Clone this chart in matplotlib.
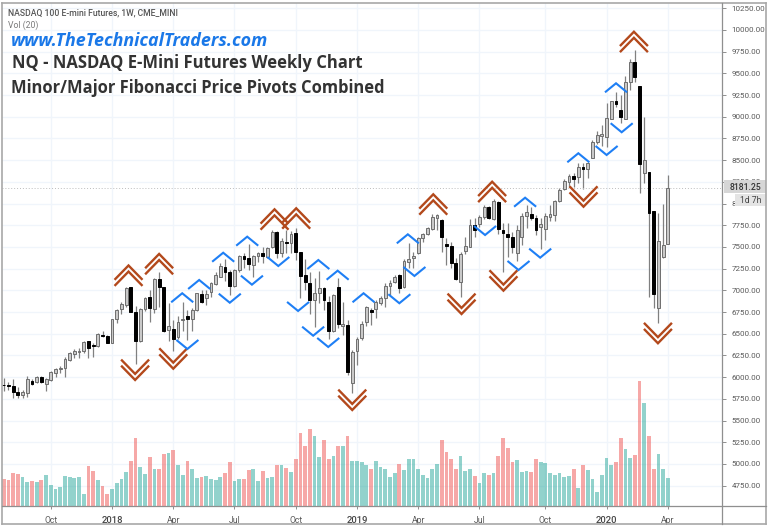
import matplotlib
matplotlib.use('Agg')
import matplotlib.pyplot as plt
from matplotlib.lines import Line2D
from matplotlib.patches import Rectangle

# weekly candles, oldest first
opens = [5914, 5914, 5899, 5834, 5795, 5814, 5957, 5941, 6006, 5922,
         5968, 6045, 6091, 6106, 6198, 6268, 6291, 6306, 6413, 6367,
         6360, 6490, 6479, 6398, 6667, 6782, 6828, 7036, 6755, 6421,
         6782, 6920, 6790, 7128, 7043, 6544, 6552, 6460, 6659, 6705,
         6667, 6775, 6959, 6909, 6986, 7074, 7159, 7274, 7216, 7055,
         7235, 7396, 7369, 7293, 7400, 7427, 7389, 7504, 7677, 7427,
         7561, 7542, 7665, 7439, 7173, 7081, 6889, 6974, 7024, 6870,
         6532, 7043, 6590, 6601, 5929, 6306, 6448, 6640, 6775, 6782,
         6852, 6909, 7051, 7101, 7178, 7036, 7332, 7370, 7428, 7600,
         7650, 7712, 7831, 7812, 7531, 7516, 7312, 7101, 7458, 7504,
         7754, 7765, 7842, 7957, 7819, 8022, 7696, 7650, 7612, 7435,
         7619, 7857, 7880, 7838, 7734, 7708, 7850, 7869, 8034, 8164,
         8253, 8318, 8303, 8426, 8395, 8529, 8714, 8783, 8771, 8979,
         9178, 9079, 8979, 9405, 9635, 9359, 8349, 8368, 7919, 6794,
         7389, 7531]
highs = [5987, 5949, 5976, 5891, 5853, 6014, 5976, 6014, 6014, 5987,
         6076, 6102, 6129, 6237, 6294, 6325, 6333, 6417, 6421, 6390,
         6506, 6536, 6486, 6671, 6782, 6867, 7043, 7043, 6821, 6794,
         6920, 7005, 7139, 7212, 7043, 6851, 6659, 6705, 6871, 6775,
         6794, 6974, 7005, 7005, 7101, 7216, 7320, 7358, 7235, 7243,
         7408, 7435, 7535, 7408, 7446, 7496, 7504, 7696, 7688, 7600,
         7696, 7688, 7715, 7439, 7358, 7208, 7139, 7227, 7043, 6935,
         6958, 7139, 6870, 6659, 6313, 6467, 6652, 6821, 6794, 6890,
         6936, 7082, 7120, 7178, 7190, 7358, 7550, 7447, 7620, 7666,
         7735, 7881, 7881, 7819, 7600, 7562, 7370, 7447, 7620, 7819,
         7831, 7869, 7984, 7972, 8049, 8034, 7773, 7781, 7677, 7754,
         7888, 7984, 7965, 7869, 7830, 7896, 7984, 8042, 8176, 8280,
         8337, 8356, 8464, 8464, 8483, 8733, 8841, 8906, 9155, 9186,
         9290, 9251, 9470, 9662, 9770, 9359, 9002, 8368, 7919, 7896,
         7996, 8330]
lows = [5841, 5853, 5757, 5757, 5757, 5776, 5910, 5930, 5930, 5837,
        5957, 6006, 6045, 6006, 6187, 6218, 6225, 6283, 6218, 6229,
        6352, 6460, 6390, 6390, 6621, 6729, 6813, 6748, 6153, 6410,
        6767, 6640, 6736, 6813, 6525, 6421, 6298, 6437, 6537, 6429,
        6537, 6763, 6859, 6832, 6920, 7063, 7151, 7113, 6947, 7043,
        7216, 7254, 7235, 7158, 7331, 7319, 7377, 7492, 7369, 7389,
        7427, 7427, 7350, 6909, 7005, 6724, 6582, 6851, 6774, 6444,
        6517, 6563, 6486, 6025, 5814, 6141, 6429, 6590, 6602, 6679,
        6832, 6813, 6948, 7082, 6967, 7024, 7255, 7255, 7416, 7562,
        7639, 7696, 7696, 7439, 7293, 7262, 7120, 6928, 7420, 7497,
        7619, 7734, 7819, 7819, 7811, 7650, 7216, 7389, 7435, 7343,
        7523, 7715, 7811, 7638, 7473, 7581, 7804, 7804, 8022, 8157,
        8188, 8195, 8234, 8164, 8291, 8522, 8687, 8664, 8656, 8971,
        9117, 8925, 8971, 9309, 9405, 8119, 8234, 6921, 6801, 6629,
        7370, 7531]
closes = [5907, 5899, 5826, 5795, 5826, 5983, 5922, 5999, 5941, 5976,
          6060, 6091, 6106, 6214, 6283, 6298, 6306, 6410, 6337, 6356,
          6498, 6475, 6398, 6667, 6774, 6844, 7028, 6755, 6417, 6786,
          6909, 6798, 7128, 7036, 6537, 6590, 6441, 6640, 6675, 6667,
          6775, 6967, 6871, 6959, 7082, 7178, 7281, 7216, 7055, 7235,
          7396, 7358, 7300, 7396, 7427, 7396, 7492, 7669, 7435, 7573,
          7546, 7650, 7439, 7166, 7101, 6889, 6974, 7031, 6889, 6532,
          6947, 6613, 6613, 6064, 6287, 6436, 6614, 6806, 6755, 6871,
          6917, 7055, 7090, 7159, 7032, 7343, 7366, 7401, 7600, 7650,
          7716, 7842, 7869, 7612, 7516, 7312, 7128, 7420, 7512, 7750,
          7696, 7850, 7965, 7830, 8034, 7708, 7658, 7612, 7496, 7696,
          7857, 7907, 7838, 7696, 7761, 7857, 7880, 8030, 8157, 8264,
          8318, 8280, 8418, 8403, 8472, 8710, 8791, 8798, 8983, 9178,
          9148, 8994, 9405, 9635, 9463, 8457, 8503, 7896, 6959, 7573,
          7523, 8176]
volumes = [273, 263, 327, 320, 293, 240, 247, 243, 257, 307,
           213, 167, 187, 300, 287, 280, 287, 117, 400, 347,
           260, 200, 117, 167, 233, 273, 340, 453, 683, 393,
           320, 487, 373, 367, 517, 533, 563, 413, 313, 447,
           373, 280, 287, 303, 273, 260, 287, 327, 440, 247,
           273, 267, 360, 367, 247, 347, 280, 287, 407, 413,
           380, 340, 473, 733, 597, 770, 700, 490, 657, 473,
           497, 597, 597, 703, 453, 447, 440, 413, 373, 453,
           393, 367, 287, 327, 420, 360, 467, 473, 373, 313,
           280, 367, 420, 663, 543, 467, 367, 503, 353, 373,
           300, 233, 333, 307, 333, 497, 677, 583, 440, 457,
           340, 353, 340, 473, 437, 427, 327, 313, 333, 293,
           300, 367, 180, 413, 357, 273, 143, 307, 480, 413,
           440, 683, 567, 480, 510, 1250, 1033, 703, 367, 517,
           367, 280]

# pivot markers: (week index, price at the tip of the chevron)
major_tops = [(26.5, 7287), (33.0, 7420), (57.5, 7934), (62.1, 7946),
              (91.2, 8107), (103.7, 8252), (133.8, 9980)]
major_bottoms = [(27.9, 5968), (36.0, 6098), (74.0, 5622), (97.2, 6728),
                 (106.1, 6997), (123.1, 7964), (138.9, 6391)]
minor_tops = [(37.9, 6967), (41.5, 7120), (46.6, 7434), (51.7, 7619),
              (66.8, 7350), (70.9, 7227), (76.4, 6967), (85.8, 7646),
              (110.7, 8068), (122.0, 8580), (130.0, 9386)]
minor_bottoms = [(39.0, 6325), (48.0, 6858), (52.7, 7066), (58.3, 7281),
                 (62.5, 6763), (65.7, 6478), (68.9, 6348), (84.0, 6852),
                 (87.2, 7166), (102.2, 7638), (109.3, 7235), (113.9, 7377),
                 (128.0, 8560), (131.2, 8822)]

date_ticks = [10, 23, 36, 49, 62, 75, 88, 101, 115, 128, 141]
date_labels = ['Oct', '2018', 'Apr', 'Jul', 'Oct', '2019', 'Apr', 'Jul', 'Oct', '2020', 'Apr']
price_ticks = [4750 + 250 * i for i in range(23)]
last_price = 8181.25

W, H = 768, 527
GRID = '#f0f5fb'
BROWN = '#b3491c'
BLUE = '#1e7ff5'
FRAME = '#8f8f8f'
TICKS = '#5a5a5a'


def px(x, y):
    return x / W, 1 - y / H


plt.rcParams['font.family'] = ['Roboto', 'DejaVu Sans']
fig = plt.figure(figsize=(W / 100, H / 100), dpi=100, facecolor='white')
ax = fig.add_axes([2 / W, (H - 506) / H, 720 / W, 503 / H])
ax.set_xlim(-0.36, 152.5)
ax.set_ylim(4516, 10311)
for s in ax.spines.values():
    s.set_visible(False)

# volume panel shares the same plot area
ax2 = ax.twinx()
ax2.set_ylim(0, 5030)
ax2.set_yticks([])
for s in ax2.spines.values():
    s.set_visible(False)

ax.set_axisbelow(True)
ax.grid(True, color=GRID, lw=1.0)
ax.yaxis.tick_right()
ax.set_yticks(price_ticks)
ax.set_yticklabels([f'{p:.2f}' for p in price_ticks])
ax.tick_params(axis='y', length=3, width=0.7, color=FRAME, labelsize=5.8, labelcolor=TICKS, pad=4)
ax.set_xticks(date_ticks)
ax.set_xticklabels(date_labels)
ax.tick_params(axis='x', length=2, width=0.7, color=FRAME, labelsize=6.2, labelcolor=TICKS, pad=5)
for lab in ax.get_xticklabels():
    if lab.get_text().startswith('20'):
        lab.set_fontsize(6.8)
        lab.set_color('#444444')
        lab.set_fontweight('medium')

# candles
weeks = list(range(len(opens)))
ax.vlines(weeks, lows, highs, color='#808080', lw=0.9, zorder=2)
tops = [max(o, c) for o, c in zip(opens, closes)]
bots = [min(o, c) for o, c in zip(opens, closes)]
body_fc = ['#c9c9c9' if c >= o else '#000000' for o, c in zip(opens, closes)]
body_ec = ['#6e6e6e' if c >= o else '#000000' for o, c in zip(opens, closes)]
ax.bar(weeks, [t - b for t, b in zip(tops, bots)], bottom=bots, width=0.6,
       color=body_fc, edgecolor=body_ec, linewidth=0.7, zorder=3)

ax.axhline(last_price, color='#bdbdbd', lw=0.7, ls=(0, (1, 2)), zorder=2)


def chevron(week, price, half_w, height, direction, color, lw):
    # direction 1 points up, -1 points down; price is the tip
    ax.plot([week - half_w, week, week + half_w],
            [price - direction * height, price, price - direction * height],
            color=color, lw=lw, solid_capstyle='butt', solid_joinstyle='miter', zorder=6)


for week, price in major_tops:
    chevron(week, price, 2.97, 165, 1, BROWN, 1.7)
    chevron(week, price - 70, 2.97, 165, 1, BROWN, 1.7)
for week, price in major_bottoms:
    chevron(week, price, 2.97, 165, -1, BROWN, 1.7)
    chevron(week, price + 70, 2.97, 165, -1, BROWN, 1.7)
for week, price in minor_tops:
    chevron(week, price, 2.34, 104, 1, BLUE, 1.5)
for week, price in minor_bottoms:
    chevron(week, price, 2.34, 104, -1, BLUE, 1.5)

vol_colors = ['#26a69a' if c >= o else '#ef5350' for o, c in zip(opens, closes)]
ax2.bar(weeks, volumes, width=0.8, color=vol_colors, alpha=0.5, linewidth=0)

# last price tags on the scale
ax.add_patch(Rectangle((724 / W, 1 - 193 / H), 42 / W, 13 / H, transform=fig.transFigure,
                       fc='#d6d6d6', ec='none', zorder=7, clip_on=False))
ax.add_patch(Rectangle((735 / W, 1 - 206 / H), 31 / W, 12 / H, transform=fig.transFigure,
                       fc='#e4e4e4', ec='none', zorder=7, clip_on=False))
fig.text(*px(745, 187), f'{last_price:.2f}', ha='center', va='center', fontsize=6.2,
         color='#333333', fontweight='medium', zorder=8)
fig.text(*px(751, 200.5), '1d 7h', ha='center', va='center', fontsize=6.2, color='#444444', zorder=8)

# frame lines
for xs, ys in [((2, 766), (3, 3)), ((2, 2), (3, 524)), ((2, 766), (524, 524)), ((766, 766), (3, 524))]:
    fig.add_artist(Line2D([x / W for x in xs], [1 - y / H for y in ys], color='#a8a8a8', lw=1.2))
fig.add_artist(Line2D([2 / W, 766 / W], [1 - 506 / H] * 2, color=FRAME, lw=0.9))
fig.add_artist(Line2D([722 / W, 722 / W], [1 - 3 / H, 1 - 524 / H], color=FRAME, lw=0.9))

# header texts
fig.text(*px(8, 13), 'NASDAQ 100 E-mini Futures, 1W, CME_MINI', fontsize=6.2, color='#555555',
         fontweight='medium', va='center')
fig.text(*px(8, 25), 'Vol (20)', fontsize=6.2, color='#7a7a7a', va='center')
fig.text(*px(11, 41), 'www.TheTechnicalTraders.com', fontsize=12.9, color='#1a78e8',
         fontweight='bold', fontstyle='italic', family=['Open Sans', 'DejaVu Sans'], va='center')
fig.text(*px(12, 63), 'NQ - NASDAQ E-Mini Futures Weekly Chart', fontsize=12, color='#333333',
         fontweight='bold', family=['Open Sans', 'DejaVu Sans'], va='center')
fig.text(*px(11, 88), 'Minor/Major Fibonacci Price Pivots Combined', fontsize=11.9, color='#333333',
         fontweight='bold', family=['Open Sans', 'DejaVu Sans'], va='center')

fig.savefig('out.png', dpi=100)
plt.close(fig)
